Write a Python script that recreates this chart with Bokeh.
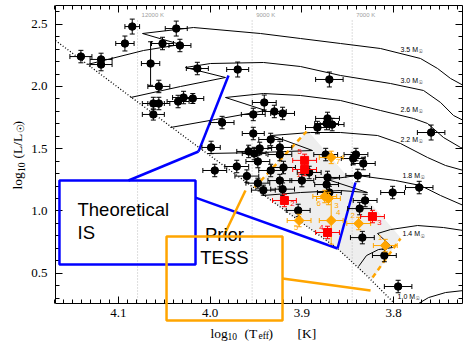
import numpy as np
from bokeh.plotting import figure
from bokeh.models import Range1d, FixedTicker, LinearAxis, Label, BoxAnnotation
from bokeh.embed import file_html
from bokeh.resources import INLINE
from bokeh.core.properties import value

# ---------------- data ----------------
# black stars: log Teff, log L, errors
blk_T = [4.141, 4.119, 4.119, 4.093, 4.085, 4.065, 4.056, 4.052, 4.033, 4.037,
         4.062, 4.056, 4.062, 4.035, 4.029, 4.019, 4.014, 3.970, 3.987, 3.999,
         3.995, 3.971, 3.953, 3.941, 3.930, 3.921, 3.953, 3.934, 3.958, 3.952,
         3.946, 3.948, 3.924, 3.924, 3.960, 3.948, 3.942, 3.934, 3.920, 3.924,
         3.900, 3.892, 3.904, 3.921, 3.883, 3.873, 3.867, 3.872, 3.870, 3.874,
         3.841, 3.844, 3.833, 3.872, 3.873, 3.870, 3.839, 3.831, 3.837, 3.834,
         3.801, 3.772, 3.810, 3.795, 3.759]
blk_L = [2.240, 2.217, 2.176, 2.345, 2.481, 2.184, 2.000, 2.345, 2.329, 2.465,
         1.863, 1.863, 1.775, 1.879, 1.911, 1.903, 2.144, 2.136, 1.710, 1.510,
         1.325, 1.357, 1.775, 1.871, 1.799, 1.783, 1.622, 1.574, 1.478, 1.461,
         1.502, 1.397, 1.510, 1.453, 1.280, 1.223, 1.167, 1.325, 1.349, 1.244,
         1.244, 1.309, 1.004, 1.175, 1.670, 1.702, 1.694, 1.743, 2.056, 1.453,
         1.453, 1.421, 1.381, 1.269, 1.212, 1.148, 1.285, 1.084, 1.019, 0.786,
         1.148, 1.188, 0.642, 0.393, 1.630]
blk_xe = [0.012, 0.012, 0.012, 0.010, 0.008, 0.010, 0.012, 0.012, 0.012, 0.012,
          0.012, 0.012, 0.012, 0.012, 0.012, 0.012, 0.012, 0.012, 0.013, 0.010,
          0.013, 0.013, 0.013, 0.013, 0.013, 0.013, 0.012, 0.013, 0.013, 0.013,
          0.013, 0.013, 0.013, 0.013, 0.013, 0.013, 0.013, 0.013, 0.013, 0.013,
          0.013, 0.013, 0.013, 0.013, 0.013, 0.013, 0.013, 0.013, 0.015, 0.013,
          0.013, 0.013, 0.013, 0.013, 0.013, 0.013, 0.013, 0.013, 0.013, 0.013,
          0.013, 0.015, 0.013, 0.015, 0.015]
blk_ye = [0.050, 0.050, 0.050, 0.060, 0.060, 0.175, 0.050, 0.050, 0.050, 0.060,
          0.050, 0.050, 0.045, 0.050, 0.050, 0.040, 0.050, 0.060, 0.050, 0.050,
          0.050, 0.050, 0.050, 0.060, 0.050, 0.050, 0.050, 0.050, 0.050, 0.050,
          0.050, 0.050, 0.050, 0.050, 0.050, 0.040, 0.040, 0.050, 0.050, 0.050,
          0.050, 0.050, 0.050, 0.050, 0.050, 0.050, 0.050, 0.050, 0.060, 0.050,
          0.050, 0.050, 0.050, 0.050, 0.050, 0.050, 0.050, 0.050, 0.050, 0.050,
          0.050, 0.050, 0.050, 0.050, 0.060]

# red squares (labelled 1-5)
red_lab = ["1", "2", "3", "4", "5"]
red_T = [3.897, 3.919, 3.823, 3.872, 3.897]
red_L = [1.333, 1.084, 0.955, 0.827, 1.406]
red_xe = [0.013, 0.013, 0.013, 0.013, 0.013]
red_ye = [0.050, 0.050, 0.050, 0.050, 0.050]

# orange diamonds (labelled 1-7)
org_lab = ["1", "2", "3", "4", "5", "6", "7"]
org_T = [3.809, 3.838, 3.871, 3.868, 3.903, 3.875, 3.868]
org_L = [0.722, 0.899, 1.100, 0.923, 0.923, 1.116, 1.430]
org_xe = [0.013, 0.013, 0.013, 0.013, 0.013, 0.013, 0.013]
org_ye = [0.050, 0.050, 0.050, 0.190, 0.050, 0.050, 0.050]

# ZAMS
zams_T = [4.1687, 4.0869, 4.0105, 3.9451, 3.9015, 3.8611, 3.8306, 3.8000]
zams_L = [2.369, 1.918, 1.500, 1.147, 0.914, 0.698, 0.490, 0.265]

# evolutionary tracks
track_mass = ["3.5", "3.0", "2.6", "2.2", "1.8", "1.4", "1.0"]
trk_T = [
    [4.1338, 4.0727, 4.0324, 4.0738, 4.0182, 3.9451, 3.9015, 3.8578, 3.8142, 3.7706, 3.7520, 3.7378, 3.7237],
    [4.0869, 4.0324, 3.9833, 4.0269, 3.9996, 3.9418, 3.9015, 3.8578, 3.8033, 3.7673, 3.7487, 3.7346, 3.7237],
    [4.0433, 3.9942, 3.9396, 3.9833, 3.9418, 3.9015, 3.8578, 3.8142, 3.7782, 3.7629, 3.7455, 3.7269, 3.7160],
    [4.0029, 3.9451, 3.8884, 3.9331, 3.8906, 3.8578, 3.8175, 3.7924, 3.7629, 3.7433, 3.7237],
    [3.9429, 3.9015, 3.8578, 3.8284, 3.8720, 3.8393, 3.7978, 3.7706, 3.7487, 3.7237],
    [3.8382, 3.8295, 3.8164, 3.8011, 3.8175, 3.8033, 3.7738, 3.7455, 3.7237],
    [3.7727, 3.7618, 3.7433, 3.7237],
]
trk_L = [
    [2.1763, 2.2888, 2.3369, 2.4253, 2.4735, 2.4253, 2.3851, 2.3450, 2.3048, 2.2245, 2.1442, 2.0639, 2.0076],
    [1.9112, 1.9996, 2.0719, 2.1522, 2.1843, 2.1924, 2.1602, 2.0880, 2.0237, 1.9675, 1.8711, 1.7667, 1.7265],
    [1.6703, 1.7346, 1.8068, 1.9112, 1.9434, 1.9273, 1.8871, 1.8068, 1.7426, 1.7024, 1.5899, 1.5096, 1.4855],
    [1.4614, 1.4695, 1.4855, 1.6060, 1.6301, 1.6301, 1.6060, 1.5418, 1.4293, 1.3651, 1.3249],
    [1.1239, 1.1480, 1.1640, 1.1480, 1.2526, 1.2847, 1.2444, 1.2042, 1.1239, 1.0436],
    [0.5534, 0.6418, 0.6900, 0.7061, 0.8185, 0.8506, 0.8829, 0.8667, 0.8426],
    [0.2562, 0.3044, 0.3446, 0.3607],
]
trk_lab_T = [3.7924, 3.7924, 3.7924, 3.7924, 3.7902, 3.7902, 3.7956]
trk_lab_L = [2.297, 2.048, 1.815, 1.574, 1.285, 0.815, 0.313]

# instability strip edges (blue) and prior TESS region (orange)
is_blue_T = [4.0127, 3.9800]
is_blue_L = [1.4775, 2.0880]
is_red_T = [3.8611, 3.8415]
is_red_L = [0.6984, 1.2283]
tess_hot_T = [3.9516, 3.8949]
tess_hot_L = [1.1883, 1.6382]
tess_cool_T = [3.8229, 3.7924]
tess_cool_L = [0.4655, 0.7787]
region_T = [3.8938, 3.7924, 3.8229, 3.8306, 3.8611, 3.9015, 3.9451, 3.9516]
region_L = [1.6462, 0.7867, 0.4494, 0.4896, 0.6984, 0.9141, 1.1470, 1.1840]

# annotation boxes and connectors
is_box = dict(left=4.1644, right=4.0160, bottom=0.5699, top=1.2444)
tess_box = dict(left=4.0476, right=3.9211, bottom=0.1201, top=0.7948)
blue_conn_x0 = [4.0891, 4.0160]
blue_conn_y0 = [1.2444, 1.1076]
blue_conn_x1 = [4.0127, 3.8611]
blue_conn_y1 = [1.4775, 0.6984]
org_conn_x0 = [3.9855, 3.9211]
org_conn_y0 = [0.7948, 0.4574]
org_conn_x1 = [3.9615, 3.8251]
org_conn_y1 = [1.1647, 0.3610]

# temperature guide lines
teff_K = [12000, 9000, 7000]
teff_lab = ["12000 K", "9000 K", "7000 K"]

x_ticks = [3.8, 3.9, 4.0, 4.1]
x_tick_labels = ["3.8", "3.9", "4.0", "4.1"]
y_ticks = [0.5, 1.0, 1.5, 2.0, 2.5]
y_tick_labels = ["0.5", "1.0", "1.5", "2.0", "2.5"]
x_minor = [round(3.72 + 0.01 * i, 2) for i in range(46)]
y_minor = [round(0.3 + 0.1 * i, 1) for i in range(24)]

# axes box (data limits of the plotted panel)
X0, X1 = 4.1687, 3.7247
Y0, Y1 = 0.2566, 2.650
# whole-canvas view range (room for the axis titles)
VX0, VX1 = 4.2287, 3.7237
VY0, VY1 = -0.0647, 2.6904

# ---------------- figure ----------------
p = figure(width=463, height=343, x_range=Range1d(VX0, VX1), y_range=Range1d(VY0, VY1),
           output_backend="svg", toolbar_location=None,
           x_axis_location=None, y_axis_location=None,
           min_border_left=0, min_border_right=0, min_border_top=0, min_border_bottom=0)
p.background_fill_color = "white"
p.border_fill_color = "white"
p.outline_line_color = None
p.xgrid.grid_line_color = None
p.ygrid.grid_line_color = None

SERIF = "Liberation Serif"
SANS = "Liberation Sans"


def style_axis(ax, show_labels):
    ax.axis_line_color = "black"
    ax.axis_line_width = 1
    ax.major_tick_in = 7
    ax.major_tick_out = 0
    ax.minor_tick_in = 4
    ax.minor_tick_out = 0
    ax.major_tick_line_color = "black"
    ax.minor_tick_line_color = "black"
    if show_labels:
        ax.major_label_text_font = SERIF
        ax.major_label_text_font_size = "13px"
        ax.major_label_text_color = "black"
    else:
        ax.major_label_text_font_size = "1px"
        ax.major_label_text_color = None
        ax.major_label_standoff = 0


xb = LinearAxis(ticker=FixedTicker(ticks=x_ticks, minor_ticks=x_minor), bounds=(X1, X0),
                fixed_location=Y0, major_label_overrides=dict(zip(x_ticks, x_tick_labels)))
style_axis(xb, True)
xb.major_label_standoff = 6
p.add_layout(xb, "below")
xt = LinearAxis(ticker=FixedTicker(ticks=x_ticks, minor_ticks=x_minor), bounds=(X1, X0),
                fixed_location=Y1)
style_axis(xt, False)
p.add_layout(xt, "above")
yl = LinearAxis(ticker=FixedTicker(ticks=y_ticks, minor_ticks=y_minor), bounds=(Y0, Y1),
                fixed_location=X0, major_label_overrides=dict(zip(y_ticks, y_tick_labels)))
style_axis(yl, True)
yl.major_label_standoff = 8
p.add_layout(yl, "left")
yr = LinearAxis(ticker=FixedTicker(ticks=y_ticks, minor_ticks=y_minor), bounds=(Y0, Y1),
                fixed_location=X1)
style_axis(yr, False)
p.add_layout(yr, "right")

# shaded region
p.patch(region_T, region_L, fill_color="#eeeeee", line_color=None)

# Teff guide lines and labels
tl = np.log10(np.array(teff_K, dtype=float))
p.segment(x0=tl, y0=[Y0] * 3, x1=tl, y1=[2.53] * 3, line_color="#bbbbbb",
          line_width=1, line_dash="1 2")
p.text(x=tl, y=[2.57] * 3, text=teff_lab, x_offset=4, text_font=value(SANS),
       text_font_size="6px", text_color="#a0a0a0", text_baseline="middle", text_align="left")

# tracks
p.multi_line(xs=trk_T, ys=trk_L, line_color="black", line_width=1)
p.text(x=trk_lab_T, y=trk_lab_L, text=[m + " M" for m in track_mass],
       text_font=value(SANS), text_font_size="7px", text_color="black",
       text_baseline="middle", text_align="left")
p.text(x=trk_lab_T, y=trk_lab_L, text=["\u2609"] * len(track_mass), x_offset=18, y_offset=2,
       text_font=value("DejaVu Sans"), text_font_size="5px", text_color="black",
       text_baseline="middle", text_align="left")

# ZAMS
p.line(zams_T, zams_L, line_color="black", line_width=1.3, line_dash="1 2")

# strip edges
p.line(is_blue_T, is_blue_L, line_color="#0000ff", line_width=2.5)
p.line(is_red_T, is_red_L, line_color="#0000ff", line_width=2.5)
p.line(tess_hot_T, tess_hot_L, line_color="#ffa500", line_width=2.5, line_dash="5 4")
p.line(tess_cool_T, tess_cool_L, line_color="#ffa500", line_width=2.5, line_dash="5 4")
p.segment(blue_conn_x0, blue_conn_y0, blue_conn_x1, blue_conn_y1, line_color="#0000ff", line_width=2.5)
p.segment(org_conn_x0, org_conn_y0, org_conn_x1, org_conn_y1, line_color="#ffa500", line_width=2.5)


def errbars(T, L, xe, ye, color):
    T = np.asarray(T); L = np.asarray(L); xe = np.asarray(xe); ye = np.asarray(ye)
    p.segment(T - xe, L, T + xe, L, line_color=color, line_width=1)
    p.segment(T, L - ye, T, L + ye, line_color=color, line_width=1)
    p.scatter(np.r_[T - xe, T + xe], np.r_[L, L], marker="dash", angle=np.pi / 2,
              size=5, line_color=color, line_width=1)
    p.scatter(np.r_[T, T], np.r_[L - ye, L + ye], marker="dash",
              size=5, line_color=color, line_width=1)


errbars(blk_T, blk_L, blk_xe, blk_ye, "black")
p.scatter(blk_T, blk_L, marker="circle", size=7.5, fill_color="black", line_color="black")

errbars(org_T, org_L, org_xe, org_ye, "#ffa500")
p.scatter(org_T, org_L, marker="square", angle=np.pi / 4, size=7, fill_color="#ffa500",
          line_color="#ffa500")
errbars(red_T, red_L, red_xe, red_ye, "#ff0000")
p.scatter(red_T, red_L, marker="square", size=8, fill_color="#ff0000", line_color="#ff0000")

red_dx = [-6, 8, 7, -6, -5]
red_dy = [5, 3, 6, -5, -9]
org_dx = [-5, -6, 8, 7, -3, -6, 7]
org_dy = [-8, -8, 7, -8, 7, 7, 4]
p.text(x=red_T, y=red_L, text=red_lab, x_offset=red_dx, y_offset=red_dy,
       text_font=value(SANS), text_font_size="8px", text_color="#ff0000",
       text_align="center", text_baseline="middle")
p.text(x=org_T, y=org_L, text=org_lab, x_offset=org_dx, y_offset=org_dy,
       text_font=value(SANS), text_font_size="8px", text_color="#ffa500",
       text_align="center", text_baseline="middle")

# annotation boxes
p.add_layout(BoxAnnotation(**is_box, fill_alpha=0, fill_color=None, line_alpha=1,
                           line_color="#0000ff", line_width=2.5))
p.add_layout(BoxAnnotation(**tess_box, fill_alpha=0, fill_color=None, line_alpha=1,
                           line_color="#ffa500", line_width=2.5))
p.text(x=[4.1447, 4.1447], y=[1.0116, 0.8269], text=["Theoretical", "IS"],
       text_font=value(SANS), text_font_size="18.5px", text_color="black",
       text_align="left", text_baseline="middle")
p.text(x=[3.9844, 3.9844], y=[0.8109, 0.6258], text=["Prior", "TESS"],
       text_font=value(SANS), text_font_size="18.5px", text_color="black",
       text_align="center", text_baseline="middle")


# axis titles (pieces with subscripts)
def lab(x, y, t, size, angle=0.0):
    p.add_layout(Label(x=x, y=y, text=t, text_font=SERIF, text_font_size=size,
                       text_color="black", text_align="left", text_baseline="middle",
                       angle=angle))


lab(3.9996, 0.0157, "log", "13.5px")
lab(3.9811, -0.0084, "10", "9.5px")
lab(3.9626, 0.0157, "(T", "13.5px")
lab(3.9473, -0.0084, "eff", "9.5px")
lab(3.9364, 0.0157, ")", "13.5px")
lab(3.9047, 0.0157, "[K]", "13.5px")

lab(4.2102, 1.1723, "log", "13.5px", np.pi / 2)
lab(4.2058, 1.3129, "10", "9.5px", np.pi / 2)
lab(4.2102, 1.4213, "(L/L", "13.5px", np.pi / 2)
lab(4.2058, 1.6221, "\u2609", "9.5px", np.pi / 2)
lab(4.2102, 1.6863, ")", "13.5px", np.pi / 2)

open("out.html", "w").write(file_html(p, INLINE))
